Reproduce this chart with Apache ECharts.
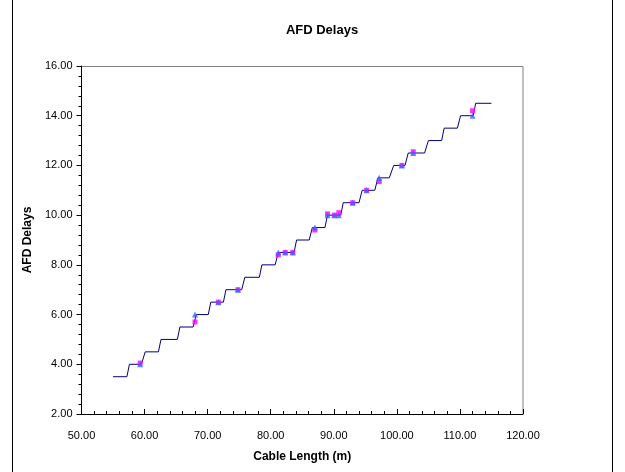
<!DOCTYPE html>
<html>
<head>
<meta charset="utf-8">
<script src="https://cdn.jsdelivr.net/npm/echarts@6/dist/echarts.min.js"></script>
<style>
  html, body { margin: 0; padding: 0; background: #fff; }
  #chart { width: 625px; height: 472px; }
</style>
</head>
<body>
<div id="chart"></div>
<script>
// stepped delay curve (cable length -> AFD delay)
const stepX = [55.0, 57.2, 57.6, 59.5, 60.1, 62.2, 62.6, 65.2, 65.6, 67.7, 68.2, 70.1, 70.5, 72.5, 72.9, 75.4,
  75.9, 78.2, 78.6, 80.7, 81.2, 83.7, 84.1, 86.1, 86.6, 88.6, 89.0, 91.1, 91.5, 94.0, 94.5, 96.5,
  97.0, 98.8, 99.5, 101.3, 101.8, 104.4, 105.0, 107.1, 107.5, 109.6, 110.1, 112.1, 112.5, 115.0];
const stepY = [3.5, 3.5, 4.0, 4.0, 4.5, 4.5, 5.0, 5.0, 5.5, 5.5, 6.0, 6.0, 6.5, 6.5, 7.0, 7.0,
  7.5, 7.5, 8.0, 8.0, 8.5, 8.5, 9.0, 9.0, 9.5, 9.5, 10.0, 10.0, 10.5, 10.5, 11.0, 11.0,
  11.5, 11.5, 12.0, 12.0, 12.5, 12.5, 13.0, 13.0, 13.5, 13.5, 14.0, 14.0, 14.5, 14.5];

// measured points
const markX = [59.3, 68.0, 71.7, 74.8, 81.2, 82.3, 83.5, 87.0, 89.0, 90.1, 90.8, 93.0, 95.2, 97.2, 100.8, 102.6, 112.0];
const blueY = [4.0, 6.0, 6.5, 7.0, 8.5, 8.5, 8.5, 9.5, 10.0, 10.0, 10.0, 10.5, 11.0, 11.5, 12.0, 12.5, 14.0];
const magentaY = [4.05, 5.7, 6.5, 7.0, 8.4, 8.5, 8.5, 9.4, 10.05, 10.0, 10.1, 10.5, 11.0, 11.35, 12.0, 12.55, 14.2];

const font = 'Liberation Sans, Arial, sans-serif';
const pairs = (xs, ys) => xs.map((x, i) => [x, ys[i]]);

const chart = echarts.init(document.getElementById('chart'), null, { renderer: 'canvas' });

chart.setOption({
  backgroundColor: '#fff',
  animation: false,
  title: {
    text: 'AFD Delays',
    left: 317,
    top: 19,
    textAlign: 'center',
    textStyle: { fontFamily: font, fontSize: 13, fontWeight: 'bold', color: '#000' },
  },
  grid: { left: 81.5, right: 102, top: 66, bottom: 58 },
  xAxis: {
    type: 'value',
    min: 50,
    max: 120,
    interval: 10,
    name: 'Cable Length (m)',
    nameLocation: 'middle',
    nameGap: 37,
    nameTextStyle: { fontFamily: font, fontSize: 12, fontWeight: 'bold', color: '#000' },
    axisLine: { show: true, onZero: false, lineStyle: { color: '#000', width: 1 } },
    axisTick: { show: true, inside: true, length: 5, lineStyle: { color: '#000' } },
    minorTick: { show: true, splitNumber: 5, length: 3, lineStyle: { color: '#000' } },
    axisLabel: {
      margin: 16,
      fontFamily: font,
      fontSize: 11,
      color: '#000',
      formatter: (v) => v.toFixed(2),
    },
    splitLine: { show: false },
  },
  yAxis: {
    type: 'value',
    min: 2,
    max: 16,
    interval: 2,
    name: 'AFD Delays',
    nameLocation: 'middle',
    nameRotate: 90,
    nameGap: 45,
    nameTextStyle: { fontFamily: font, fontSize: 12, fontWeight: 'bold', color: '#000' },
    axisLine: { show: true, onZero: false, lineStyle: { color: '#000', width: 1 } },
    axisTick: { show: true, inside: false, length: 5, lineStyle: { color: '#000' } },
    minorTick: { show: true, splitNumber: 5, length: 3, lineStyle: { color: '#000' } },
    axisLabel: {
      margin: 9,
      fontFamily: font,
      fontSize: 11,
      color: '#000',
      formatter: (v) => v.toFixed(2),
    },
    splitLine: { show: false },
  },
  graphic: [
    // outer frame
    { type: 'line', shape: { x1: 12.5, y1: 0, x2: 12.5, y2: 472 }, style: { stroke: '#000', lineWidth: 1 } },
    { type: 'line', shape: { x1: 612.5, y1: 0, x2: 612.5, y2: 472 }, style: { stroke: '#000', lineWidth: 1 } },
    // plot area border (top, right)
    { type: 'line', shape: { x1: 81.5, y1: 66.5, x2: 523, y2: 66.5 }, style: { stroke: '#808080', lineWidth: 1 } },
    { type: 'line', shape: { x1: 523, y1: 66.5, x2: 523, y2: 414 }, style: { stroke: '#808080', lineWidth: 1 } },
  ],
  series: [
    {
      type: 'line',
      data: pairs(stepX, stepY),
      symbol: 'none',
      lineStyle: { color: '#000080', width: 1 },
      z: 2,
    },
    {
      type: 'scatter',
      data: pairs(markX, magentaY),
      symbol: 'rect',
      symbolSize: 5,
      itemStyle: { color: '#FF00FF' },
      z: 3,
    },
    {
      type: 'scatter',
      data: pairs(markX, blueY),
      symbol: 'triangle',
      symbolSize: 6,
      itemStyle: { color: '#3366FF' },
      z: 4,
    },
  ],
});
</script>
</body>
</html>
